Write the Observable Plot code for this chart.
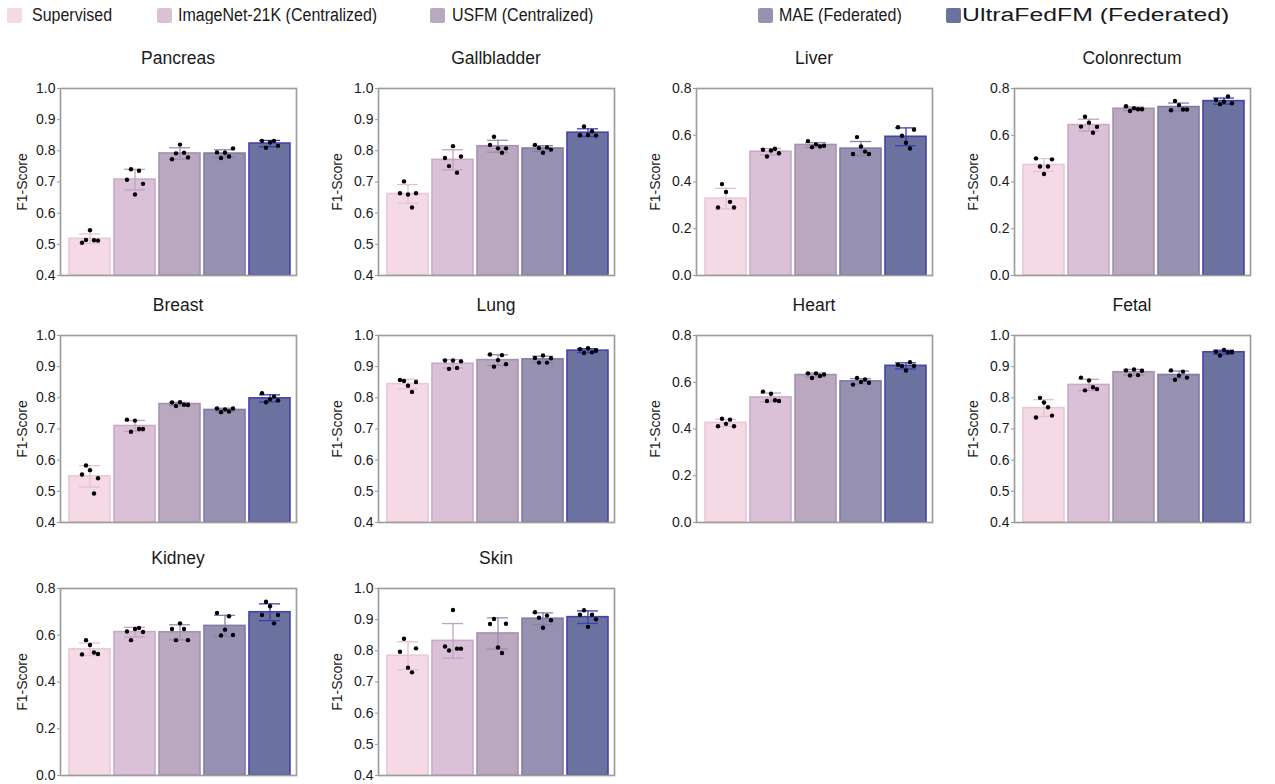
<!DOCTYPE html>
<html><head><meta charset="utf-8">
<script src="https://cdn.jsdelivr.net/npm/d3@7"></script>
<script src="https://cdn.jsdelivr.net/npm/@observablehq/plot@0.6"></script>
<style>
body{margin:0;background:#fff;font-family:"Liberation Sans",Arial,sans-serif;}
#root{position:relative;width:1275px;height:784px;overflow:hidden;background:#fff;}
.li{position:absolute;top:7px;height:16px;display:flex;align-items:center;font-size:16px;color:#1a1a1a;white-space:nowrap;}
.li .tx{display:inline-block;transform-origin:left center;transform:scaleY(1.1);}
.sw{width:15px;height:15px;border-radius:2px;margin-right:6px;flex:none;}
.panel{position:absolute;width:300px;}
.title{margin-left:60px;width:236px;height:30px;line-height:16px;text-align:center;font-size:17.5px;color:#1a1a1a;}
.panel svg{display:block;overflow:visible;}
</style>
</head><body><div id="root"></div>
<script>
// ---------- data ----------
const models = ["Supervised","ImageNet-21K (Centralized)","USFM (Centralized)","MAE (Federated)","UltraFedFM (Federated)"];
const organs = ["Pancreas","Gallbladder","Liver","Colonrectum","Breast","Lung","Heart","Fetal","Kidney","Skin"];
const yTicksHigh = [0.4,0.5,0.6,0.7,0.8,0.9,1.0];
const yTicksLow = [0.0,0.2,0.4,0.6,0.8];
const organScale = ["high","high","low","low","high","high","low","high","low","high"];

// five runs per model (F1-Score), per organ
const pancreas = [[0.505,0.514,0.545,0.513,0.512],[0.707,0.741,0.660,0.736,0.694],[0.773,0.792,0.820,0.794,0.779],[0.795,0.777,0.794,0.782,0.808],[0.832,0.810,0.827,0.832,0.816]];
const gallbladder = [[0.664,0.702,0.660,0.618,0.664],[0.777,0.751,0.815,0.730,0.782],[0.819,0.845,0.808,0.794,0.808],[0.819,0.809,0.794,0.811,0.804],[0.850,0.878,0.851,0.863,0.849]];
const liver = [[0.291,0.391,0.357,0.315,0.291],[0.538,0.509,0.535,0.542,0.523],[0.575,0.549,0.561,0.552,0.555],[0.520,0.592,0.552,0.530,0.520],[0.634,0.598,0.568,0.543,0.624]];
const colonrectum = [[0.501,0.466,0.434,0.466,0.497],[0.637,0.679,0.654,0.611,0.636],[0.724,0.704,0.716,0.711,0.711],[0.707,0.747,0.729,0.710,0.710],[0.751,0.733,0.743,0.766,0.737]];
const breast = [[0.554,0.583,0.568,0.493,0.542],[0.730,0.691,0.727,0.700,0.700],[0.785,0.774,0.786,0.778,0.777],[0.766,0.754,0.763,0.756,0.766],[0.815,0.786,0.795,0.804,0.792]];
const lung = [[0.857,0.854,0.839,0.819,0.851],[0.920,0.893,0.920,0.896,0.917],[0.939,0.900,0.921,0.937,0.908],[0.928,0.913,0.936,0.913,0.927],[0.956,0.944,0.959,0.946,0.952]];
const heart = [[0.412,0.444,0.422,0.440,0.412],[0.560,0.520,0.551,0.523,0.520],[0.638,0.618,0.638,0.627,0.633],[0.590,0.618,0.601,0.612,0.598],[0.675,0.670,0.650,0.686,0.670]];
const fetal = [[0.737,0.800,0.785,0.770,0.743],[0.865,0.824,0.856,0.834,0.828],[0.888,0.872,0.891,0.873,0.887],[0.888,0.858,0.871,0.884,0.865],[0.948,0.936,0.954,0.946,0.947]];
const kidney = [[0.518,0.579,0.558,0.526,0.520],[0.616,0.579,0.627,0.631,0.614],[0.627,0.579,0.651,0.627,0.579],[0.695,0.599,0.624,0.681,0.601],[0.687,0.743,0.724,0.651,0.687]];
const skin = [[0.797,0.839,0.746,0.731,0.808],[0.814,0.801,0.931,0.807,0.807],[0.886,0.902,0.811,0.793,0.887],[0.924,0.906,0.874,0.913,0.898],[0.916,0.930,0.877,0.916,0.901]];
const organScores = [pancreas,gallbladder,liver,colonrectum,breast,lung,heart,fetal,kidney,skin];

// ---------- styles ----------
const fills = ["#f5dae6","#dbc1d7","#baa7c0","#9791b1","#6c729f"];
const strokes = ["#e8c8da","#c8aac7","#a592b2","#7f7ba5","#4643a9"];
const errColors = ["#e2c2d3","#c2a2c1","#9f8cb2","#8682ae","#3e3eae"];

const root = document.getElementById("root");

// legend
const legendLeft = [7,157,430,758,946];
const legendGap = [10,6,7,6,1];
const legendStretch = [1,1,1,1,1.55];
models.forEach((m,i)=>{
  const d = document.createElement("div");
  d.className="li"; d.style.left = legendLeft[i]+"px";
  d.innerHTML = `<span class="sw" style="background:${fills[i]};margin-right:${legendGap[i]}px"></span><span class="tx" style="transform:scale(${legendStretch[i]},1.1)">${m}</span>`;
  root.appendChild(d);
});

const colLeft = [0,318,636,954];
const rowTop = [50,297,550];

organs.forEach((organ, k)=>{
  const scores = organScores[k];
  const high = organScale[k]==="high";
  const ticks = high ? yTicksHigh : yTicksLow;
  const lo = ticks[0], hi = ticks[ticks.length-1];
  const stats = models.map((m,i)=>({
    model:m, idx:i,
    mean:d3.mean(scores[i]), sd:d3.deviation(scores[i])
  }));
  const points = [];
  models.forEach((m,i)=>scores[i].forEach((v,j)=>points.push({model:m, j, value:v})));

  const marks = [];
  models.forEach((m,i)=>{
    const s = stats.filter(d=>d.model===m);
    marks.push(Plot.barY(s,{x:"model", y1:lo, y2:"mean", fill:fills[i], stroke:strokes[i], strokeWidth:1.6}));
  });
  models.forEach((m,i)=>{
    const s = stats.filter(d=>d.model===m);
    marks.push(Plot.ruleX(s,{x:"model", y1:d=>d.mean-d.sd, y2:d=>d.mean+d.sd, stroke:errColors[i], strokeWidth:1.3}));
    marks.push(Plot.tickY(s,{x:"model", y:d=>d.mean+d.sd, stroke:errColors[i], strokeWidth:1.3, insetLeft:10, insetRight:10}));
    marks.push(Plot.tickY(s,{x:"model", y:d=>d.mean-d.sd, stroke:errColors[i], strokeWidth:1.3, insetLeft:10, insetRight:10}));
  });
  for (let j=0;j<5;j++){
    marks.push(Plot.dot(points.filter(p=>p.j===j),{x:"model", y:"value", r:2.2, fill:"#000", stroke:null, dx:(j-2)*4}));
  }
  marks.push(Plot.axisY({ticks, tickFormat:".1f", tickSize:3, tickPadding:2, stroke:"#999", fill:"#1a1a1a",
    label:"F1-Score", labelAnchor:"center", labelArrow:"none", labelOffset:(k%4===0 ? 43 : 46)}));
  marks.push(Plot.frame({stroke:"#9e9e9e", strokeWidth:1.7}));

  const svg = Plot.plot({
    width:300, height:199,
    marginLeft:60, marginRight:4, marginTop:8, marginBottom:4,
    style:{fontFamily:"'Liberation Sans', Arial, sans-serif", fontSize:"14px", color:"#1a1a1a", background:"transparent", overflow:"visible"},
    x:{domain:models, paddingInner:0.1, paddingOuter:0.05, insetLeft:5, insetRight:1.5, axis:null},
    y:{domain:[lo,hi], axis:null},
    marks
  });
  const panel = document.createElement("div");
  panel.className="panel";
  panel.style.left = colLeft[k%4]+"px";
  panel.style.top = rowTop[Math.floor(k/4)]+"px";
  const t = document.createElement("div");
  t.className="title"; t.textContent = organ;
  panel.appendChild(t);
  panel.appendChild(svg);
  root.appendChild(panel);
});
</script>
</body></html>
